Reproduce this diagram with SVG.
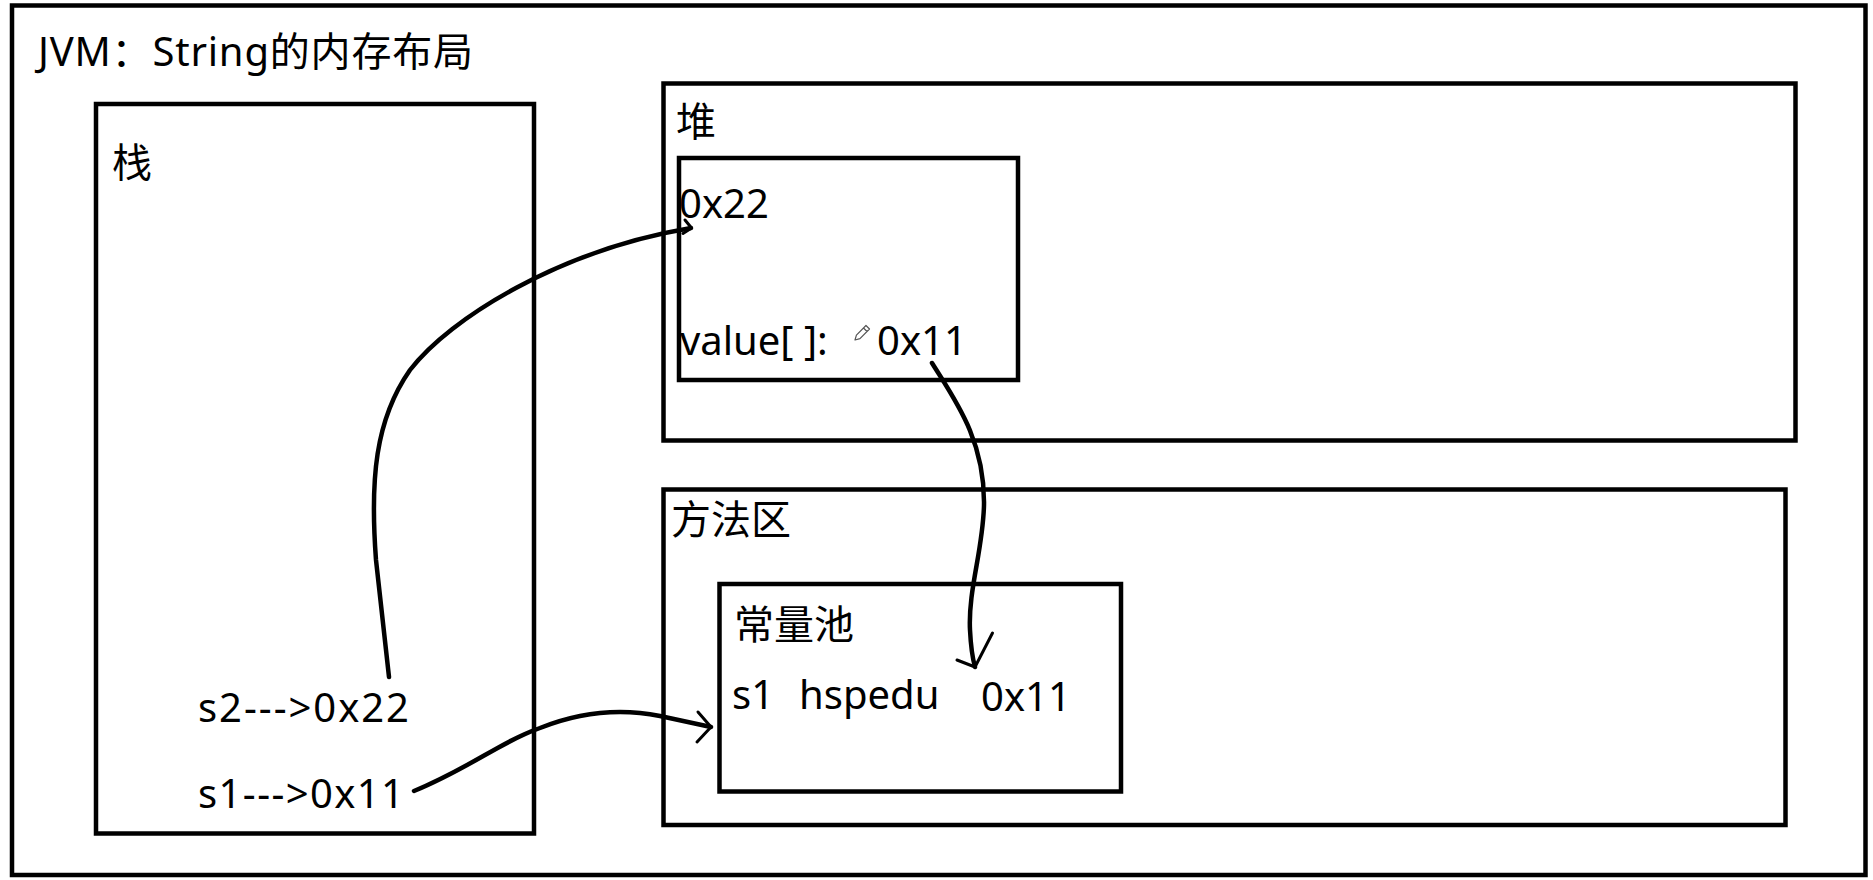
<svg xmlns="http://www.w3.org/2000/svg" width="1873" height="880" viewBox="0 0 1873 880">
<style>
.box{fill:none;stroke:#000;stroke-width:4.5}
.t{font-family:"Noto Sans","Noto Sans CJK SC",sans-serif;font-size:40px;fill:#000}
.c{fill:none;stroke:#000;stroke-width:4.5;stroke-linecap:round;stroke-linejoin:round}
.ah{fill:none;stroke:#000;stroke-width:3;stroke-linecap:round;stroke-linejoin:round}
</style>
<rect x="0" y="0" width="1873" height="880" fill="#fff"/>
<g id="jvm">
<rect class="box" x="12" y="5.5" width="1853.5" height="869.5"/>
<text class="t" x="38" y="66" font-size="43" textLength="435">JVM：String的内存布局</text>
</g>
<g id="stack">
<rect class="box" x="96" y="104" width="438" height="729.5"/>
<text class="t" x="112" y="177">栈</text>
<text class="t" x="198" y="722" textLength="211">s2---&gt;0x22</text>
<text class="t" x="198" y="808" textLength="206">s1---&gt;0x11</text>
</g>
<g id="heap">
<rect class="box" x="663.5" y="83.5" width="1132" height="357"/>
<text class="t" x="676" y="136">堆</text>
</g>
<g id="string-object">
<rect class="box" x="679" y="158" width="339" height="222"/>
<text class="t" x="679" y="218">0x22</text>
<text class="t" x="680" y="355">value[ ]:</text>
<g transform="translate(855,340) rotate(-45)">
<path d="M0,0 L4.5,-2.5 L18,-2.5 L18,2.5 L4.5,2.5 Z M14.5,-2.5 L14.5,2.5" fill="#fff" stroke="#555" stroke-width="1.2" stroke-linejoin="round"/>
</g>
<text class="t" x="877" y="355">0x11</text>
</g>
<g id="method-area">
<rect class="box" x="663.5" y="489.5" width="1122" height="335.5"/>
<text class="t" x="671" y="534">方法区</text>
</g>
<g id="constant-pool">
<rect class="box" x="719.5" y="584" width="401.5" height="207.5"/>
<text class="t" x="734" y="639">常量池</text>
<text class="t" x="732" y="709">s1</text>
<text class="t" x="799" y="709">hspedu</text>
<text class="t" x="981" y="711">0x11</text>
</g>
<g id="connectors">
<path class="c" d="M389,677 L376,560 C370,480 375,420 410,370 C450,318 560,250 691,228"/>
<path class="ah" d="M685,220 L691.5,228 L683,233.5"/>
<path class="c" d="M932,363 C955,400 985,440 984,505 C983,550 968,590 970,630 C971,650 973,660 975,667"/>
<path class="ah" d="M957,660 L975,667 L992.5,633"/>
<path class="c" d="M414,791 C470,768 500,742 540,728 C580,712 620,708 660,716 L711,727"/>
<path class="ah" d="M698,712 L711,727 L697,742"/>
</g>
</svg>
